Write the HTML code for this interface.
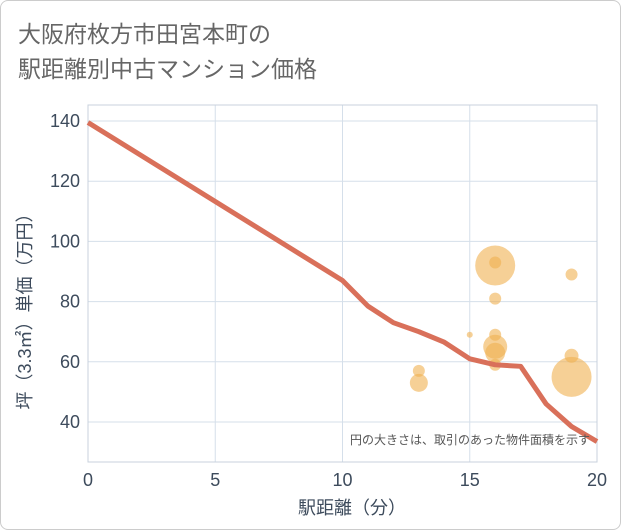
<!DOCTYPE html>
<html><head><meta charset="utf-8"><style>
body{margin:0;background:#fff;}
#card{position:absolute;left:0;top:0;width:619px;height:528px;border:1px solid #ccc;border-radius:8px;background:#fff;}
svg{position:absolute;left:0;top:0;font-family:"Liberation Sans","Noto Sans CJK JP",sans-serif;}
</style></head><body>
<div id="card"></div>
<svg id="chart" width="621" height="530">
<text x="18" y="42" font-size="23" fill="#666">大阪府枚方市田宮本町の</text>
<text x="18" y="77" font-size="23" fill="#666">駅距離別中古マンション価格</text>
<g id="grid"></g>
<g id="bubbles"></g>
<g id="line"></g>
<g id="axes"></g>
<text x="590" y="444" font-size="12" fill="#555" text-anchor="end">円の大きさは、取引のあった物件面積を示す</text>
<text x="352" y="514" font-size="18" fill="#3d4b5c" text-anchor="middle">駅距離（分）</text>
<text transform="translate(31,307) rotate(-90)" font-size="18" fill="#3d4b5c" text-anchor="middle">坪（3.3㎡）単価（万円）</text>
</svg>
<script>
const xTicks=[0,5,10,15,20];
const yTicks=[40,60,80,100,120,140];
const lineX=[0,10,11,12,13,14,15,16,17,18,19,20];
const lineY=[139.5,87,78.5,73,70,66.5,61,59,58.5,46,38.5,33.5];
const bubX=[13,13,15,16,16,16,16,16,16,16,19,19,19];
const bubY=[57,53,69,92,93,81,69,65,63,59,89,62,55];
const bubR=[6,9,3,20,6,6,6,12,10,6,6,7,20];
const X0=88,X1=597,YT=105,YB=462;
const sx=v=>X0+(X1-X0)*v/20;
const sy=v=>422-(v-40)*3.01;
const NS='http://www.w3.org/2000/svg';
function mk(t,p,a){const e=document.createElementNS(NS,t);for(const k in a)e.setAttribute(k,a[k]);p.appendChild(e);return e;}
const grid=document.getElementById('grid'),axes=document.getElementById('axes');
xTicks.forEach(v=>{const l=mk('line',grid,{x1:sx(v),x2:sx(v),y1:YT,y2:YB,stroke:'#d5dfea','stroke-width':1});


const t=mk('text',axes,{x:sx(v),y:486,'font-size':18,fill:'#3d4b5c','text-anchor':'middle'});t.textContent=v;

});
yTicks.forEach(v=>{const l=mk('line',grid,{x1:X0,x2:X1,y1:sy(v),y2:sy(v),stroke:'#d5dfea','stroke-width':1});


const t=mk('text',axes,{x:80,y:sy(v)+6,'font-size':18,fill:'#3d4b5c','text-anchor':'end'});t.textContent=v;

});
const fr=mk('rect',grid,{x:X0,y:YT,width:X1-X0,height:YB-YT,fill:'none',stroke:'#c8d2dc'});


const bg=document.getElementById('bubbles');
bubX.forEach((x,i)=>{const c=mk('circle',bg,{cx:sx(x),cy:sy(bubY[i]),r:bubR[i],fill:'#f0b050','fill-opacity':0.6});

});
const pts=lineX.map((x,i)=>sx(x)+','+sy(lineY[i])).join(' ');
const pl=mk('polyline',document.getElementById('line'),{points:pts,fill:'none',stroke:'#d9705a','stroke-width':5,'stroke-linejoin':'round'});


</script>
</body></html>
